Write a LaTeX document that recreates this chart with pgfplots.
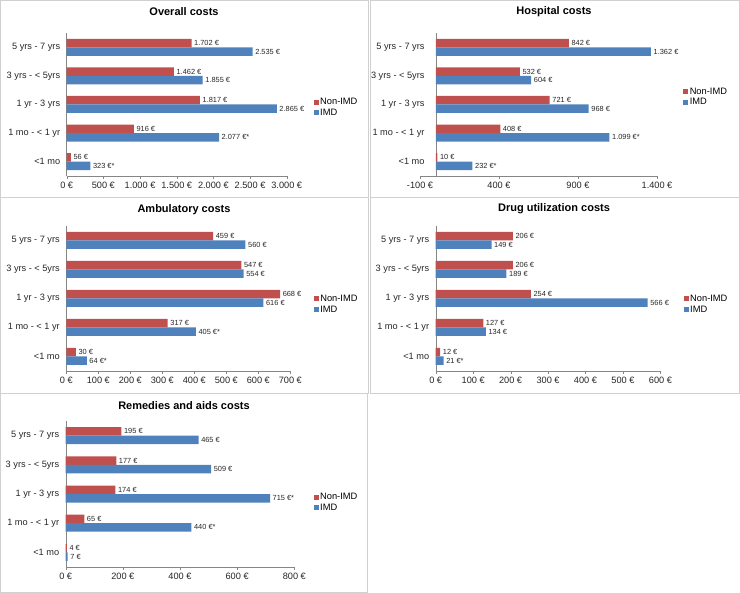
\documentclass[border=0pt]{standalone}
\usepackage{fontspec}
\setmainfont{Liberation Sans}
\usepackage{pgfplots}
\pgfplotsset{compat=1.18}

\definecolor{imd}{HTML}{4F81BD}
\definecolor{nonimd}{HTML}{C0504D}
\definecolor{axisgray}{HTML}{868686}
\definecolor{framegray}{HTML}{D0D0D0}

\pgfplotsset{
  panel/.style={
    scale only axis,
    height=143pt,
    xbar,
    bar width=8.5pt,
    ymin=-0.5, ymax=4.5,
    ytick={0,1,2,3,4},
    yticklabels={<1 mo, 1 mo - < 1 yr, 1 yr - 3 yrs, 3 yrs - < 5yrs, 5 yrs - 7 yrs},
    axis x line*=bottom,
    axis y line*=left,
    axis line style={draw=axisgray},
    ytick style={draw=none},
    xtick style={draw=axisgray},
    tick align=outside,
    major tick length=3pt,
    ticklabel style={font=\fontsize{9.2}{10}\selectfont, text=black!85},
    enlargelimits=false,
    clip=false,
    point meta=explicit symbolic,
    nodes near coords,
    nodes near coords align=horizontal,
    nodes near coords style={anchor=west, font=\fontsize{7.4}{8}\selectfont, text=black!85, inner xsep=2.5pt},
    legend style={draw=none, fill=none, anchor=west, inner sep=0pt,
      font=\fontsize{9.3}{10}\selectfont, row sep=3pt,
      nodes={inner xsep=1.5pt, inner ysep=0pt}},
    legend cell align=left,
    legend image code/.code={\fill[##1] (0pt,-2.5pt) rectangle (5pt,2.5pt);},
  },
  nonimd/.style={fill=nonimd, draw=none, bar shift=4.25pt},
  imd/.style={fill=imd, draw=none, bar shift=-4.25pt},
}

\begin{document}
\begin{tikzpicture}
\useasboundingbox (0pt,0pt) rectangle (740pt,-593pt);

% panel frames
\draw[framegray] (0.5pt,-0.5pt) rectangle (368pt,-197pt);
\draw[framegray] (370pt,-0.5pt) rectangle (739.5pt,-197pt);
\draw[framegray] (0.5pt,-197pt) rectangle (368pt,-393pt);
\draw[framegray] (370pt,-197pt) rectangle (739.5pt,-393pt);
\draw[framegray] (0.5pt,-393pt) rectangle (367pt,-592.5pt);

% titles
\node[font=\bfseries\fontsize{11}{12}\selectfont] at (184pt,-12pt) {Overall costs};
\node[font=\bfseries\fontsize{11}{12}\selectfont] at (554pt,-12pt) {Hospital costs};
\node[font=\bfseries\fontsize{11}{12}\selectfont] at (184pt,-210pt) {Ambulatory costs};
\node[font=\bfseries\fontsize{11}{12}\selectfont] at (554pt,-209pt) {Drug utilization costs};
\node[font=\bfseries\fontsize{11}{12}\selectfont] at (184pt,-406pt) {Remedies and aids costs};

% Overall costs
\begin{axis}[panel, at={(66.7pt,-176pt)}, anchor=south west, width=220pt,
  xmin=0, xmax=3000, xtick={0,500,1000,1500,2000,2500,3000},
  xticklabels={0 €,500 €,1.000 €,1.500 €,2.000 €,2.500 €,3.000 €},
  legend style={at={(1.122,0.479)}}]
\addplot[nonimd] coordinates {(56,0) [56 €] (916,1) [916 €] (1817,2) [1.817 €] (1462,3) [1.462 €] (1702,4) [1.702 €]};
\addlegendentry{Non-IMD}
\addplot[imd] coordinates {(323,0) [323 €*] (2077,1) [2.077 €*] (2865,2) [2.865 €] (1855,3) [1.855 €] (2535,4) [2.535 €]};
\addlegendentry{IMD}
\end{axis}

% Hospital costs
\begin{axis}[panel, at={(420pt,-176pt)}, anchor=south west, width=237pt,
  xmin=-100, xmax=1400, xtick={-100,400,900,1400},
  xticklabels={-100 €,400 €,900 €,1.400 €},
  y axis line style={draw=none},
  yticklabel style={xshift=11pt},
  legend style={at={(1.11,0.552)}}]
\draw[axisgray] (axis cs:0,-0.5) -- (axis cs:0,4.5);
\addplot[nonimd] coordinates {(10,0) [10 €] (408,1) [408 €] (721,2) [721 €] (532,3) [532 €] (842,4) [842 €]};
\addlegendentry{Non-IMD}
\addplot[imd] coordinates {(232,0) [232 €*] (1099,1) [1.099 €*] (968,2) [968 €] (604,3) [604 €] (1362,4) [1.362 €]};
\addlegendentry{IMD}
\end{axis}

% Ambulatory costs
\begin{axis}[panel, at={(66.3pt,-371pt)}, anchor=south west, width=224pt, height=145pt,
  xmin=0, xmax=700, xtick={0,100,...,700},
  xticklabels={0 €,100 €,200 €,300 €,400 €,500 €,600 €,700 €},
  legend style={at={(1.104,0.46)}}]
\addplot[nonimd] coordinates {(30,0) [30 €] (317,1) [317 €] (668,2) [668 €] (547,3) [547 €] (459,4) [459 €]};
\addlegendentry{Non-IMD}
\addplot[imd] coordinates {(64,0) [64 €*] (405,1) [405 €*] (616,2) [616 €] (554,3) [554 €] (560,4) [560 €]};
\addlegendentry{IMD}
\end{axis}

% Drug utilization costs
\begin{axis}[panel, at={(435.7pt,-371pt)}, anchor=south west, width=224.7pt, height=145pt,
  xmin=0, xmax=600, xtick={0,100,...,600},
  xticklabels={0 €,100 €,200 €,300 €,400 €,500 €,600 €},
  legend style={at={(1.103,0.46)}}]
\addplot[nonimd] coordinates {(12,0) [12 €] (127,1) [127 €] (254,2) [254 €] (206,3) [206 €] (206,4) [206 €]};
\addlegendentry{Non-IMD}
\addplot[imd] coordinates {(21,0) [21 €*] (134,1) [134 €] (566,2) [566 €] (189,3) [189 €] (149,4) [149 €]};
\addlegendentry{IMD}
\end{axis}

% Remedies and aids costs
\begin{axis}[panel, at={(65.7pt,-567pt)}, anchor=south west, width=228.6pt, height=146pt,
  xmin=0, xmax=800, xtick={0,200,...,800},
  xticklabels={0 €,200 €,400 €,600 €,800 €},
  legend style={at={(1.084,0.442)}}]
\addplot[nonimd] coordinates {(4,0) [4 €] (65,1) [65 €] (174,2) [174 €] (177,3) [177 €] (195,4) [195 €]};
\addlegendentry{Non-IMD}
\addplot[imd] coordinates {(7,0) [7 €] (440,1) [440 €*] (715,2) [715 €*] (509,3) [509 €] (465,4) [465 €]};
\addlegendentry{IMD}
\end{axis}
\end{tikzpicture}
\end{document}
